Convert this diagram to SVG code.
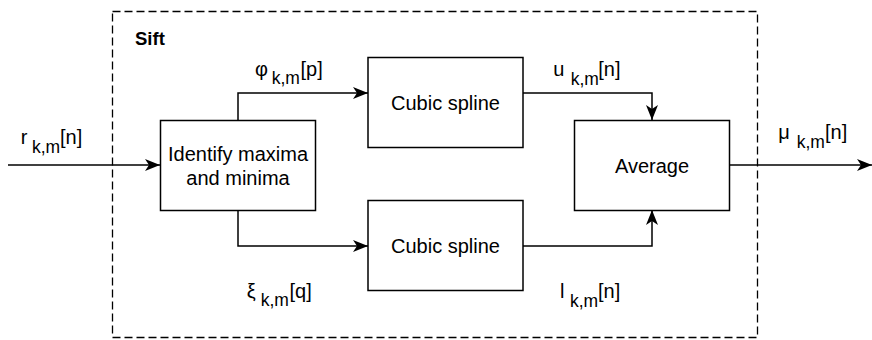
<svg xmlns="http://www.w3.org/2000/svg" width="872" height="340" viewBox="0 0 872 340">
  <style>
    .box { fill: #ffffff; stroke: #000000; stroke-width: 1.5; }
    .frame { fill: none; stroke: #000000; stroke-width: 1.3; stroke-dasharray: 8 4; }
    .wire { fill: none; stroke: #000000; stroke-width: 1.5; marker-end: url(#arrow); }
    .lbl { font-family: "Liberation Sans", Arial, sans-serif; font-size: 20px; fill: #000000; }
    .sub { font-size: 17.5px; }
    .title { font-family: "Liberation Sans", Arial, sans-serif; font-size: 18.5px; font-weight: bold; fill: #000000; }
  </style>
  <defs>
    <marker id="arrow" markerUnits="userSpaceOnUse" markerWidth="16" markerHeight="12" refX="15" refY="6" orient="auto">
      <path d="M0,0 L15,6 L0,12 L4,6 Z" fill="#000000"/>
    </marker>
  </defs>

  <rect width="872" height="340" fill="#ffffff"/>

  <!-- sift boundary -->
  <g id="sift">
    <rect class="frame" x="112.5" y="11.5" width="645" height="326"/>
    <text class="title" x="135" y="45">Sift</text>
  </g>

  <!-- connectors -->
  <g id="connectors">
    <path class="wire" d="M8,165 H160"/>
    <path class="wire" d="M238,120 V93 H368"/>
    <path class="wire" d="M238,210 V246 H368"/>
    <path class="wire" d="M523,93 H652 V120"/>
    <path class="wire" d="M523,246 H652 V210"/>
    <path class="wire" d="M729,165 H872"/>
  </g>

  <!-- nodes -->
  <g id="identify">
    <rect class="box" x="160.5" y="120.5" width="155" height="90"/>
    <text class="lbl" x="238" y="161" text-anchor="middle">Identify maxima</text>
    <text class="lbl" x="238" y="185" text-anchor="middle">and minima</text>
  </g>
  <g id="spline-upper">
    <rect class="box" x="368" y="57.5" width="155" height="90"/>
    <text class="lbl" x="445.5" y="110" text-anchor="middle">Cubic spline</text>
  </g>
  <g id="spline-lower">
    <rect class="box" x="368" y="200.5" width="155" height="90"/>
    <text class="lbl" x="445.5" y="253" text-anchor="middle">Cubic spline</text>
  </g>
  <g id="average">
    <rect class="box" x="574.5" y="120.5" width="155" height="90"/>
    <text class="lbl" x="652" y="173" text-anchor="middle">Average</text>
  </g>

  <!-- signal labels -->
  <g id="labels">
    <text class="lbl" y="144"><tspan x="20.7">r</tspan><tspan class="sub" x="32" y="152.7">k,m</tspan><tspan x="60" y="144">[n]</tspan></text>
    <text class="lbl" y="76"><tspan x="255">φ</tspan><tspan class="sub" x="271.7" y="84.3">k,m</tspan><tspan x="300.5" y="76">[p]</tspan></text>
    <text class="lbl" y="298"><tspan x="246.7">ξ</tspan><tspan class="sub" x="260.7" y="306">k,m</tspan><tspan x="289.5" y="298">[q]</tspan></text>
    <text class="lbl" y="76"><tspan x="553.3">u</tspan><tspan class="sub" x="570.7" y="85">k,m</tspan><tspan x="598.3" y="76">[n]</tspan></text>
    <text class="lbl" y="298"><tspan x="560">l</tspan><tspan class="sub" x="570" y="307.3">k,m</tspan><tspan x="598" y="298">[n]</tspan></text>
    <text class="lbl" y="139"><tspan x="778.3">μ</tspan><tspan class="sub" x="796.7" y="148.3">k,m</tspan><tspan x="825" y="139">[n]</tspan></text>
  </g>
</svg>
